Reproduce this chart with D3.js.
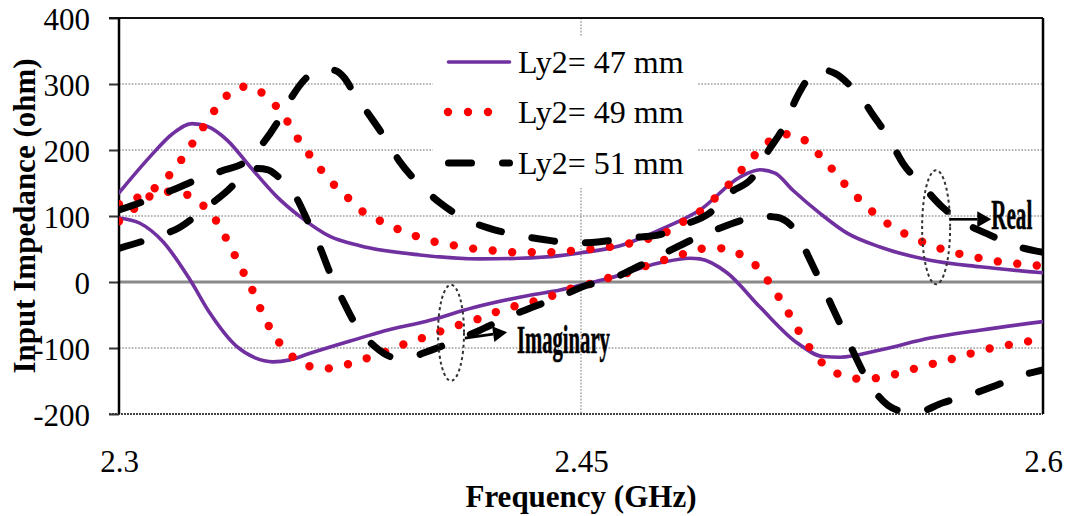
<!DOCTYPE html>
<html>
<head>
<meta charset="utf-8">
<script src="https://cdn.jsdelivr.net/npm/d3@7"></script>
<style>
  body { margin: 0; background: #fff; }
  svg { display: block; }
</style>
</head>
<body>
<svg id="chart" width="1068" height="516"></svg>
<script>
// Axis ticks
const freqTicks = [2.3, 2.45, 2.6];
const impTicks = [-200, -100, 0, 100, 200, 300, 400];
const seriesNames = ["Ly2= 47 mm", "Ly2= 49 mm", "Ly2= 51 mm"];

// Ly2 = 47 mm, real part
const f47Re = [2.3000, 2.3101, 2.3175, 2.3237, 2.3286, 2.3351, 2.3425, 2.3513, 2.3588, 2.3685, 2.3782, 2.3977, 2.4172, 2.4302, 2.4432, 2.4497, 2.4627, 2.4756, 2.4886, 2.5016, 2.5081, 2.5130, 2.5188, 2.5276, 2.5364, 2.5471, 2.5633, 2.5795, 2.6000];
const z47Re = [135, 190, 225, 240, 236, 215, 175, 129, 99, 69, 55, 41, 35, 36, 40, 44, 55, 79, 109, 159, 170, 165, 139, 104, 74, 53, 33, 23, 14];
// Ly2 = 47 mm, imaginary part
const f47Im = [2.3000, 2.3068, 2.3143, 2.3231, 2.3295, 2.3383, 2.3442, 2.3500, 2.3555, 2.3620, 2.3782, 2.3847, 2.4010, 2.4149, 2.4334, 2.4432, 2.4497, 2.4594, 2.4756, 2.4854, 2.4886, 2.4974, 2.5081, 2.5201, 2.5286, 2.5341, 2.5471, 2.5633, 2.5795, 2.6000];
const z47Im = [97, 89, 61, 3, -47, -98, -115, -121, -118, -108, -85, -76, -58, -39, -20, -12, -5, 6, 29, 36, 35, 14, -38, -92, -113, -114, -103, -85, -73, -60];

// Ly2 = 49 mm, real part
const f49Re = [2.3000, 2.3078, 2.3143, 2.3188, 2.3224, 2.3260, 2.3295, 2.3334, 2.3383, 2.3414, 2.3445, 2.3497, 2.3539, 2.3571, 2.3607, 2.3646, 2.3688, 2.3734, 2.3776, 2.3838, 2.3896, 2.3955, 2.4016, 2.4081, 2.4143, 2.4208, 2.4273, 2.4399, 2.4464, 2.4529, 2.4591, 2.4653, 2.4721, 2.4779, 2.4831, 2.4890, 2.4935, 2.4981, 2.5026, 2.5068, 2.5114, 2.5175, 2.5234, 2.5279, 2.5321, 2.5364, 2.5409, 2.5455, 2.5506, 2.5565, 2.5623, 2.5685, 2.5744, 2.5808, 2.5870, 2.5935, 2.6000];
const z49Re = [118, 132, 152, 176, 200, 225, 250, 274, 294, 296, 292, 273, 249, 224, 200, 176, 152, 132, 112, 95, 82, 71, 62, 56, 51, 48, 45, 45, 47, 50, 53, 58, 66, 76, 91, 108, 127, 148, 172, 194, 214, 224, 212, 190, 168, 144, 123, 103, 85, 70, 58, 48, 41, 35, 30, 27, 24];
// Ly2 = 49 mm, imaginary part
const f49Im = [2.3000, 2.3052, 2.3101, 2.3143, 2.3208, 2.3263, 2.3308, 2.3341, 2.3370, 2.3399, 2.3429, 2.3455, 2.3481, 2.3516, 2.3558, 2.3614, 2.3675, 2.3740, 2.3802, 2.3864, 2.3922, 2.3984, 2.4042, 2.4104, 2.4166, 2.4227, 2.4289, 2.4351, 2.4412, 2.4474, 2.4536, 2.4601, 2.4659, 2.4721, 2.4782, 2.4844, 2.4906, 2.4971, 2.5029, 2.5078, 2.5117, 2.5153, 2.5185, 2.5218, 2.5253, 2.5295, 2.5351, 2.5416, 2.5481, 2.5542, 2.5607, 2.5669, 2.5731, 2.5792, 2.5854, 2.5919, 2.5981, 2.6000];
const z49Im = [92, 112, 130, 137, 134, 120, 98, 72, 46, 19, -8, -36, -62, -89, -111, -127, -131, -125, -116, -106, -95, -85, -75, -65, -56, -45, -36, -29, -20, -9, -2, 8, 15, 26, 35, 44, 51, 51, 38, 20, -5, -31, -56, -83, -106, -128, -142, -147, -144, -137, -128, -121, -113, -105, -98, -93, -87, -85];

// Ly2 = 51 mm, real part
const f51Re = [2.3000, 2.3091, 2.3172, 2.3253, 2.3344, 2.3403, 2.3458, 2.3513, 2.3555, 2.3610, 2.3653, 2.3695, 2.3734, 2.3760, 2.3808, 2.3864, 2.3912, 2.3971, 2.4042, 2.4117, 2.4198, 2.4295, 2.4383, 2.4481, 2.4562, 2.4659, 2.4750, 2.4831, 2.4919, 2.4984, 2.5058, 2.5107, 2.5156, 2.5201, 2.5237, 2.5276, 2.5325, 2.5373, 2.5412, 2.5448, 2.5497, 2.5545, 2.5607, 2.5672, 2.5740, 2.5828, 2.5903, 2.6000];
const z51Re = [109, 124, 139, 155, 170, 180, 205, 241, 276, 310, 320, 321, 308, 288, 256, 218, 182, 150, 120, 97, 82, 71, 64, 59, 61, 67, 71, 86, 105, 135, 159, 198, 233, 280, 308, 322, 316, 298, 278, 253, 220, 180, 147, 114, 91, 71, 56, 45];
// Ly2 = 51 mm, imaginary part
const f51Im = [2.3000, 2.3110, 2.3198, 2.3273, 2.3344, 2.3403, 2.3451, 2.3484, 2.3516, 2.3555, 2.3578, 2.3610, 2.3653, 2.3685, 2.3727, 2.3773, 2.3831, 2.3880, 2.3919, 2.3961, 2.4010, 2.4097, 2.4172, 2.4263, 2.4344, 2.4432, 2.4519, 2.4594, 2.4692, 2.4773, 2.4860, 2.4942, 2.5026, 2.5081, 2.5136, 2.5201, 2.5237, 2.5286, 2.5318, 2.5357, 2.5383, 2.5438, 2.5497, 2.5536, 2.5591, 2.5675, 2.5763, 2.5851, 2.5935, 2.6000];
const z51Im = [51, 67, 83, 109, 135, 160, 172, 170, 160, 143, 126, 95, 52, 14, -28, -68, -98, -113, -116, -112, -104, -88, -73, -53, -38, -22, -5, 4, 25, 44, 64, 80, 94, 100, 98, 74, 40, -8, -40, -79, -105, -155, -187, -195, -197, -183, -171, -156, -141, -133];

const svg = d3.select("#chart");
const W = 1068, H = 516;
const plot = { left: 119, right: 1043, top: 18, bottom: 414 };
const serif = "'Liberation Serif', 'Times New Roman', serif";

const x = d3.scaleLinear().domain([2.3, 2.6]).range([plot.left, plot.right]);
const y = d3.scaleLinear().domain([-200, 400]).range([plot.bottom, plot.top]);

svg.append("rect").attr("width", W).attr("height", H).attr("fill", "#fff");

// Horizontal grid
const grid = svg.append("g");
[-100, 100, 200, 300].forEach(v => {
  grid.append("line")
    .attr("x1", plot.left).attr("x2", plot.right)
    .attr("y1", y(v)).attr("y2", y(v))
    .attr("stroke", "#9a9a9a").attr("stroke-width", 1.4)
    .attr("stroke-dasharray", "1.6,1.6");
});
// Vertical grid at the centre frequency
grid.append("line")
  .attr("x1", x(2.45)).attr("x2", x(2.45))
  .attr("y1", plot.top).attr("y2", plot.bottom)
  .attr("stroke", "#9a9a9a").attr("stroke-width", 1.4)
  .attr("stroke-dasharray", "1.6,1.6");
// Bottom gridline
grid.append("line")
  .attr("x1", plot.left - 10).attr("x2", plot.right)
  .attr("y1", y(-200)).attr("y2", y(-200))
  .attr("stroke", "#444").attr("stroke-width", 1.8)
  .attr("stroke-dasharray", "2,1");
// Zero line
grid.append("line")
  .attr("x1", plot.left).attr("x2", plot.right)
  .attr("y1", y(0)).attr("y2", y(0))
  .attr("stroke", "#8a8a8a").attr("stroke-width", 3);

// Legend background
const legend = svg.append("g");
legend.append("rect")
  .attr("x", 433).attr("y", 37).attr("width", 264).attr("height", 151)
  .attr("fill", "#fff");

// Axes
const yAxis = d3.axisLeft(y).tickValues(impTicks).tickSize(10).tickPadding(19)
  .tickFormat(d => String(d));
const gy = svg.append("g").attr("transform", `translate(${plot.left},0)`).call(yAxis);
gy.select(".domain").remove();
gy.selectAll(".tick line").attr("stroke", "#333").attr("stroke-width", 2);
gy.selectAll(".tick text").attr("font-family", serif).attr("font-size", 31)
  .attr("fill", "#000").attr("dy", "0.36em");

const xAxis = d3.axisBottom(x).tickValues(freqTicks).tickSize(0).tickPadding(36)
  .tickFormat(d => String(d));
const gx = svg.append("g").attr("transform", `translate(0,${plot.bottom})`).call(xAxis);
gx.select(".domain").remove();
gx.selectAll(".tick text").attr("font-family", serif).attr("font-size", 31).attr("fill", "#000");

// Frame: top, left and right borders
svg.append("line").attr("x1", plot.left - 10).attr("x2", plot.right)
  .attr("y1", plot.top).attr("y2", plot.top)
  .attr("stroke", "#111").attr("stroke-width", 2);
svg.append("line").attr("x1", plot.left).attr("x2", plot.left)
  .attr("y1", plot.top).attr("y2", plot.bottom)
  .attr("stroke", "#000").attr("stroke-width", 2.5);
svg.append("line").attr("x1", plot.right).attr("x2", plot.right)
  .attr("y1", plot.top).attr("y2", plot.bottom)
  .attr("stroke", "#000").attr("stroke-width", 2.5);

// Curves
svg.append("clipPath").attr("id", "plotClip")
  .append("rect")
  .attr("x", plot.left).attr("y", plot.top)
  .attr("width", plot.right - plot.left).attr("height", plot.bottom - plot.top);

const line = d3.line().x(d => x(d[0])).y(d => y(d[1])).curve(d3.curveMonotoneX);
const zipSeries = (f, z) => f.map((v, i) => [v, z[i]]);

const styles = [
  { stroke: "#7030A0", width: 3.6, dash: null, cap: "round" },
  { stroke: "#FF0000", width: 8.4, dash: "0,19.6", cap: "round" },
  { stroke: "#000000", width: 7, dash: "23,31", cap: "round" }
];
const curves = [
  { data: zipSeries(f47Re, z47Re), s: 0 },
  { data: zipSeries(f47Im, z47Im), s: 0 },
  { data: zipSeries(f49Re, z49Re), s: 1 },
  { data: zipSeries(f49Im, z49Im), s: 1 },
  { data: zipSeries(f51Re, z51Re), s: 2 },
  { data: zipSeries(f51Im, z51Im), s: 2 }
];
const gc = svg.append("g").attr("clip-path", "url(#plotClip)");
curves.forEach(c => {
  const st = styles[c.s];
  gc.append("path")
    .attr("d", line(c.data))
    .attr("fill", "none")
    .attr("stroke", st.stroke)
    .attr("stroke-width", st.width)
    .attr("stroke-linecap", st.cap)
    .attr("stroke-linejoin", "round")
    .attr("stroke-dasharray", st.dash);
});

// Legend entries
const legendRows = [62, 112, 163];
seriesNames.forEach((name, i) => {
  const st = styles[i];
  const ly = legendRows[i];
  const x0 = i === 1 ? 448 : 448.5, x1 = i === 1 ? 508 : 509.5;
  legend.append("line")
    .attr("x1", x0).attr("x2", x1).attr("y1", ly).attr("y2", ly)
    .attr("stroke", st.stroke).attr("stroke-width", st.width)
    .attr("stroke-linecap", st.cap)
    .attr("stroke-dasharray", i === 1 ? "0,20" : st.dash);
  legend.append("text")
    .attr("x", 518).attr("y", ly + 11)
    .attr("font-family", serif).attr("font-size", 32)
    .attr("fill", "#000").text(name);
});

// Axis titles
svg.append("text")
  .attr("x", x(2.45)).attr("y", 507)
  .attr("text-anchor", "middle")
  .attr("font-family", serif).attr("font-size", 31).attr("font-weight", "bold")
  .text("Frequency (GHz)");
svg.append("text")
  .attr("transform", "translate(35,216) rotate(-90)")
  .attr("text-anchor", "middle")
  .attr("font-family", serif).attr("font-size", 31).attr("font-weight", "bold")
  .text("Input Impedance (ohm)");

// Annotations: dotted ellipses with arrows to labels
const notes = [
  { cx: 2.4078, cy: -77, rx: 13, ry: 48, a0: [2.4123, -85], a1: [2.4260, -76],
    label: "Imaginary", tx: 2.4292, ty: -108, size: 40, len: 93 },
  { cx: 2.5653, cy: 83, rx: 14, ry: 57, a0: [2.5698, 95], a1: [2.5832, 95],
    label: "Real", tx: 2.5832, ty: 80, size: 42, len: 41 }
];
const ga = svg.append("g");
notes.forEach(n => {
  ga.append("ellipse")
    .attr("cx", x(n.cx)).attr("cy", y(n.cy))
    .attr("rx", n.rx).attr("ry", n.ry)
    .attr("fill", "none").attr("stroke", "#333")
    .attr("stroke-width", 2).attr("stroke-dasharray", "3,3");
  const p0 = [x(n.a0[0]), y(n.a0[1])], p1 = [x(n.a1[0]), y(n.a1[1])];
  const ang = Math.atan2(p1[1] - p0[1], p1[0] - p0[0]);
  const hl = 14, hw = 8;
  const base = [p1[0] - hl * Math.cos(ang), p1[1] - hl * Math.sin(ang)];
  ga.append("line")
    .attr("x1", p0[0]).attr("y1", p0[1]).attr("x2", base[0]).attr("y2", base[1])
    .attr("stroke", "#000").attr("stroke-width", 2.6);
  ga.append("polygon")
    .attr("points", [
      p1,
      [base[0] + hw * Math.sin(ang), base[1] - hw * Math.cos(ang)],
      [base[0] - hw * Math.sin(ang), base[1] + hw * Math.cos(ang)]
    ].map(p => p.join(",")).join(" "))
    .attr("fill", "#000");
  ga.append("text")
    .attr("x", x(n.tx)).attr("y", y(n.ty))
    .attr("font-family", serif).attr("font-size", n.size).attr("font-weight", "bold")
    .attr("textLength", n.len).attr("lengthAdjust", "spacingAndGlyphs")
    .attr("stroke", "#000").attr("stroke-width", 0.6)
    .attr("fill", "#000").text(n.label);
});
</script>
</body>
</html>
